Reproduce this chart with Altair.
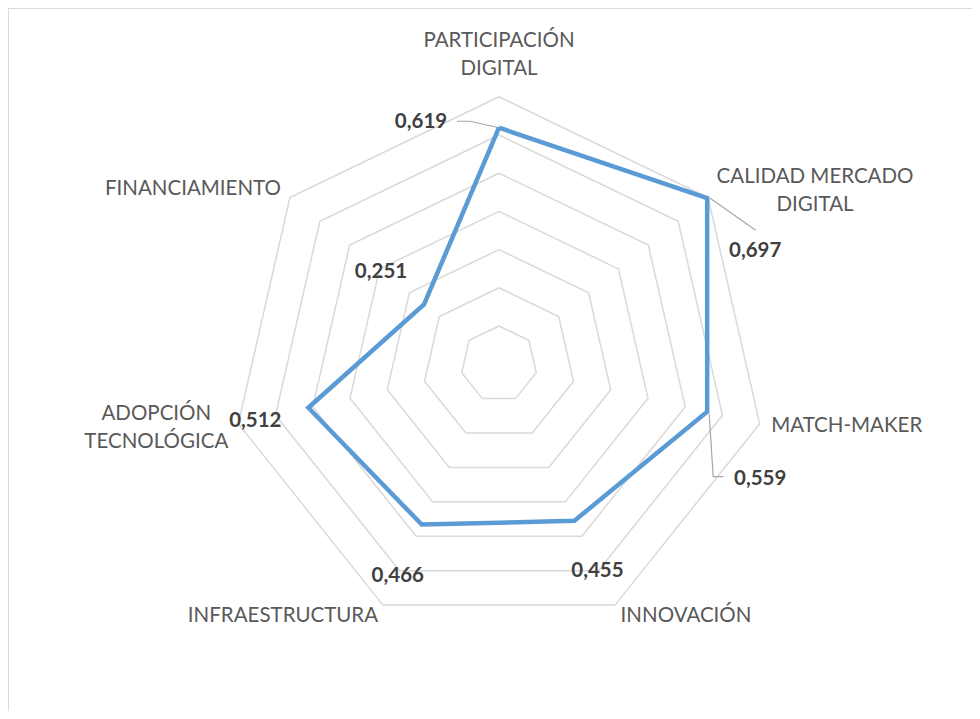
import altair as alt
import pandas as pd

# ---- data ----
categories = ["PARTICIPACIÓN\nDIGITAL", "CALIDAD MERCADO\nDIGITAL", "MATCH-MAKER",
              "INNOVACIÓN", "INFRAESTRUCTURA", "ADOPCIÓN\nTECNOLÓGICA", "FINANCIAMIENTO"]
values = [0.619, 0.697, 0.559, 0.455, 0.466, 0.512, 0.251]
value_labels = ["0,619", "0,697", "0,559", "0,455", "0,466", "0,512", "0,251"]
grid_levels = [0.1, 0.2, 0.3, 0.4, 0.5, 0.6, 0.7]
r_max = 0.7

# ---- layout (pixel offsets / styling) ----
PXU = 382.0  # pixels per data unit
W, H = 964, 703
XMIN = -491 / PXU
YMAX = 356.2 / PXU
cat_offsets = [(0, -56), (107, -20), (87, 2), (71, 10.5), (-100, 10.5), (-82, -10), (-97, -8)]
val_offsets = [(-78, -5.5), (48, 52.5), (53, 67), (23, 50), (-24, 51), (-53, 13), (-43, -32)]
leaders = {0: [(0, 0), (-29, -6.5), (-42, -6.5)],
           1: [(3, 0), (48.5, 32)],
           2: [(2, 2), (6, 65), (16, 65)]}

N = len(categories)

xs = alt.Scale(domain=[XMIN, XMIN + W / PXU], nice=False, zero=False)
ys = alt.Scale(domain=[YMAX - H / PXU, YMAX], nice=False, zero=False)

ang = f"datum.i*2*PI/{N}"

# grid
grid_rows = [{"level": lv, "i": i % N, "ord": i} for lv in grid_levels for i in range(N + 1)]
grid = alt.Chart(pd.DataFrame(grid_rows)).transform_calculate(
    x=f"datum.level*sin({ang})", y=f"datum.level*cos({ang})"
).mark_line(stroke="#d9d9d9", strokeWidth=1.5).encode(
    x=alt.X("x:Q", scale=xs, axis=None),
    y=alt.Y("y:Q", scale=ys, axis=None),
    detail="level:N",
    order="ord:Q",
)

# series
ser_rows = [{"i": i % N, "ord": i, "v": values[i % N]} for i in range(N + 1)]
series = alt.Chart(pd.DataFrame(ser_rows)).transform_calculate(
    x=f"datum.v*sin({ang})", y=f"datum.v*cos({ang})"
).mark_line(stroke="#5b9bd5", strokeWidth=4.5, strokeJoin="miter").encode(
    x=alt.X("x:Q", scale=xs, axis=None),
    y=alt.Y("y:Q", scale=ys, axis=None),
    order="ord:Q",
)

layers = [grid]

# leader lines
lead_rows = []
for i, pts in leaders.items():
    for k, (dx, dy) in enumerate(pts):
        lead_rows.append({"i": i, "k": k, "v": values[i], "dx": dx, "dy": dy})
lead = alt.Chart(pd.DataFrame(lead_rows)).transform_calculate(
    x=f"datum.v*sin({ang}) + datum.dx/{PXU}",
    y=f"datum.v*cos({ang}) - datum.dy/{PXU}",
).mark_line(stroke="#a6a6a6", strokeWidth=1.2).encode(
    x=alt.X("x:Q", scale=xs, axis=None),
    y=alt.Y("y:Q", scale=ys, axis=None),
    detail="i:N",
    order="k:Q",
)
layers += [lead, series]

lab_df = pd.DataFrame({"i": list(range(N)), "cat": categories, "v": values, "vl": value_labels})

for i in range(N):
    dx, dy = cat_offsets[i]
    layers.append(
        alt.Chart(lab_df).transform_filter(f"datum.i == {i}").transform_calculate(
            x=f"{r_max}*sin({ang})", y=f"{r_max}*cos({ang})"
        ).mark_text(font="Lato", fontSize=20.5, color="#595959", align="center",
                    baseline="middle", lineBreak="\n", lineHeight=28, dx=dx, dy=dy).encode(
            x=alt.X("x:Q", scale=xs, axis=None),
            y=alt.Y("y:Q", scale=ys, axis=None),
            text="cat:N",
        )
    )
    dx, dy = val_offsets[i]
    layers.append(
        alt.Chart(lab_df).transform_filter(f"datum.i == {i}").transform_calculate(
            x=f"datum.v*sin({ang})", y=f"datum.v*cos({ang})"
        ).mark_text(font="Lato", fontSize=20.5, fontWeight="bold", color="#404040",
                    align="center", baseline="middle", dx=dx, dy=dy).encode(
            x=alt.X("x:Q", scale=xs, axis=None),
            y=alt.Y("y:Q", scale=ys, axis=None),
            text="vl:N",
        )
    )

# chart frame (left and top edges visible)
frame_l = alt.Chart(lab_df).mark_rule(stroke="#d9d9d9", strokeWidth=2).encode(
    x=alt.value(0), y=alt.value(0), y2=alt.value(H))
frame_t = alt.Chart(lab_df).mark_rule(stroke="#d9d9d9", strokeWidth=2).encode(
    x=alt.value(0), x2=alt.value(W), y=alt.value(0))
layers += [frame_l, frame_t]

chart = alt.layer(*layers).properties(
    width=W, height=H, autosize=alt.AutoSizeParams(type="none"), padding=0
).configure_view(stroke=None).configure(background="white")

chart.save("out.html", embed_options={"renderer": "svg", "actions": False})
